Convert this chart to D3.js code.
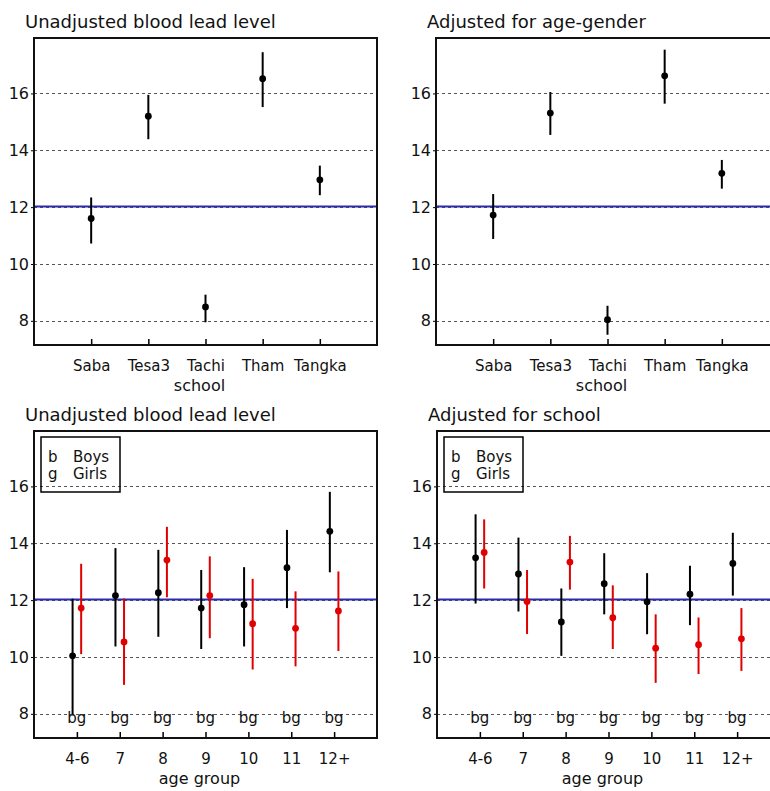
<!DOCTYPE html>
<html>
<head>
<meta charset="utf-8">
<script src="https://cdn.jsdelivr.net/npm/d3@7"></script>
<style>
  body { margin: 0; background: #fff; }
  svg { display: block; font-family: "DejaVu Sans", sans-serif; }
</style>
</head>
<body>
<div id="chart"></div>
<script>
// --- data ---
const schools = ["Saba", "Tesa3", "Tachi", "Tham", "Tangka"];
const schoolUnadj   = [11.60, 15.20, 8.49, 16.52, 12.96];
const schoolUnadjLo = [10.72, 14.39, 7.95, 15.52, 12.42];
const schoolUnadjHi = [12.34, 15.95, 8.92, 17.45, 13.46];
const schoolAdj   = [11.72, 15.31, 8.04, 16.62, 13.19];
const schoolAdjLo = [10.88, 14.54, 7.51, 15.64, 12.65];
const schoolAdjHi = [12.46, 16.05, 8.53, 17.54, 13.66];

const ageGroups = ["4-6", "7", "8", "9", "10", "11", "12+"];
const boysUnadj   = [10.04, 12.16, 12.26, 11.72, 11.84, 13.14, 14.42];
const boysUnadjLo = [7.95, 10.37, 10.71, 10.28, 10.37, 11.72, 12.98];
const boysUnadjHi = [12.05, 13.83, 13.77, 13.06, 13.16, 14.47, 15.81];
const girlsUnadj   = [11.72, 10.53, 13.41, 12.16, 11.17, 11.01, 11.62];
const girlsUnadjLo = [10.10, 9.02, 12.10, 10.66, 9.56, 9.67, 10.21];
const girlsUnadjHi = [13.28, 12.06, 14.58, 13.54, 12.75, 12.31, 13.01];
const boysAdj   = [13.49, 12.92, 11.23, 12.58, 11.94, 12.21, 13.29];
const boysAdjLo = [11.88, 11.60, 10.04, 11.50, 10.80, 11.12, 12.16];
const boysAdjHi = [15.02, 14.20, 12.41, 13.65, 12.95, 13.21, 14.37];
const girlsAdj   = [13.68, 11.95, 13.34, 11.38, 10.31, 10.43, 10.64];
const girlsAdjLo = [12.41, 10.81, 12.37, 10.28, 9.09, 9.40, 9.51];
const girlsAdjHi = [14.84, 13.06, 14.26, 12.52, 11.50, 11.39, 11.72];

const yTicks = [8, 10, 12, 14, 16];
const refLevel = 12;

const W = 770, H = 791;
const PW = 343, PH = 307;

const svg = d3.select('#chart').append('svg')
    .attr('width', W)
    .attr('height', H);

// one panel: frame, grid, reference line, error bars
function drawPanel(opt) {
    const g = svg.append('g').attr('transform', `translate(${opt.left},${opt.top})`);
    const x = d3.scaleLinear().domain([0, opt.cats.length + 1]).range([0, PW]);
    const y = d3.scaleLinear().domain([7.15, 17.95]).range([PH, 0]);

    // dashed grid
    g.selectAll('line.grid')
        .data(yTicks)
        .join('line')
        .attr('class', 'grid')
        .attr('x1', 0).attr('x2', PW)
        .attr('y1', d => Math.round(y(d)) + 0.5)
        .attr('y2', d => Math.round(y(d)) + 0.5)
        .attr('stroke', '#555')
        .attr('stroke-width', 1)
        .attr('stroke-dasharray', '3,3');

    // blue reference line
    g.append('line')
        .attr('x1', 0).attr('x2', PW)
        .attr('y1', Math.round(y(refLevel)) - 0.5)
        .attr('y2', Math.round(y(refLevel)) - 0.5)
        .attr('stroke', '#2b2bb0')
        .attr('stroke-width', 2);

    // y tick labels + short outer ticks
    const yAxis = g.append('g').call(d3.axisLeft(y).tickValues(yTicks).tickSize(3).tickPadding(2));
    yAxis.select('.domain').remove();
    yAxis.selectAll('line').attr('stroke', '#000');
    yAxis.selectAll('text')
        .attr('font-size', 16)
        .attr('font-family', '"DejaVu Sans", sans-serif')
        .attr('fill', '#111');

    // x ticks pointing inward
    const xAxis = g.append('g')
        .attr('transform', `translate(0,${PH})`)
        .call(d3.axisBottom(x)
            .tickValues(d3.range(1, opt.cats.length + 1))
            .tickSize(-6)
            .tickPadding(15)
            .tickFormat(d => opt.cats[d - 1]));
    xAxis.select('.domain').remove();
    xAxis.selectAll('line').attr('stroke', '#000').attr('stroke-width', 1.5);
    xAxis.selectAll('text')
        .attr('font-size', 15)
        .attr('font-family', '"DejaVu Sans", sans-serif')
        .attr('fill', '#111');

    // error bars
    opt.series.forEach(s => {
        const pts = opt.cats.map((c, i) => ({ i: i + 1, v: s.mid[i], lo: s.lo[i], hi: s.hi[i] }));
        g.append('g').selectAll('line')
            .data(pts)
            .join('line')
            .attr('x1', d => x(d.i + s.dx)).attr('x2', d => x(d.i + s.dx))
            .attr('y1', d => y(d.lo)).attr('y2', d => y(d.hi))
            .attr('stroke', s.color)
            .attr('stroke-width', 2);
        g.append('g').selectAll('circle')
            .data(pts)
            .join('circle')
            .attr('cx', d => x(d.i + s.dx))
            .attr('cy', d => y(d.v))
            .attr('r', 3.4)
            .attr('fill', s.color);
    });

    // "bg" markers under each age group, plus the legend box
    if (opt.bg) {
        g.append('g').selectAll('text')
            .data(opt.cats.map((c, i) => i + 1))
            .join('text')
            .attr('x', d => x(d))
            .attr('y', PH - 15)
            .attr('text-anchor', 'middle')
            .attr('font-size', 15)
            .attr('fill', '#111')
            .text('bg');

        const leg = g.append('g').attr('transform', 'translate(7,6)');
        leg.append('rect')
            .attr('width', 79).attr('height', 55)
            .attr('fill', 'none')
            .attr('stroke', '#000')
            .attr('stroke-width', 1.5);
        [['b', 'Boys', 25], ['g', 'Girls', 42]].forEach(r => {
            leg.append('text').attr('x', 7).attr('y', r[2]).attr('font-size', 15).attr('fill', '#111').text(r[0]);
            leg.append('text').attr('x', 32).attr('y', r[2]).attr('font-size', 15).attr('fill', '#111').text(r[1]);
        });
    }

    // frame
    g.append('rect')
        .attr('width', PW).attr('height', PH)
        .attr('fill', 'none')
        .attr('stroke', '#111')
        .attr('stroke-width', 2);

    // title and axis label
    svg.append('text')
        .attr('x', opt.left - 9)
        .attr('y', opt.top - 10)
        .attr('font-size', 18)
        .attr('fill', '#111')
        .text(opt.title);
    svg.append('text')
        .attr('x', opt.left + PW / 2 - 6)
        .attr('y', opt.top + PH + 46)
        .attr('text-anchor', 'middle')
        .attr('font-size', 16)
        .attr('fill', '#111')
        .text(opt.xlabel);
}

drawPanel({
    left: 34, top: 38, title: 'Unadjusted blood lead level', xlabel: 'school',
    cats: schools,
    series: [{ mid: schoolUnadj, lo: schoolUnadjLo, hi: schoolUnadjHi, dx: 0, color: '#000' }]
});
drawPanel({
    left: 436, top: 38, title: 'Adjusted for age-gender', xlabel: 'school',
    cats: schools,
    series: [{ mid: schoolAdj, lo: schoolAdjLo, hi: schoolAdjHi, dx: 0, color: '#000' }]
});
drawPanel({
    left: 34, top: 431, title: 'Unadjusted blood lead level', xlabel: 'age group',
    cats: ageGroups, bg: true,
    series: [
        { mid: boysUnadj, lo: boysUnadjLo, hi: boysUnadjHi, dx: -0.1, color: '#000' },
        { mid: girlsUnadj, lo: girlsUnadjLo, hi: girlsUnadjHi, dx: 0.1, color: '#e00000' }
    ]
});
drawPanel({
    left: 437, top: 431, title: 'Adjusted for school', xlabel: 'age group',
    cats: ageGroups, bg: true,
    series: [
        { mid: boysAdj, lo: boysAdjLo, hi: boysAdjHi, dx: -0.1, color: '#000' },
        { mid: girlsAdj, lo: girlsAdjLo, hi: girlsAdjHi, dx: 0.1, color: '#e00000' }
    ]
});
</script>
</body>
</html>
